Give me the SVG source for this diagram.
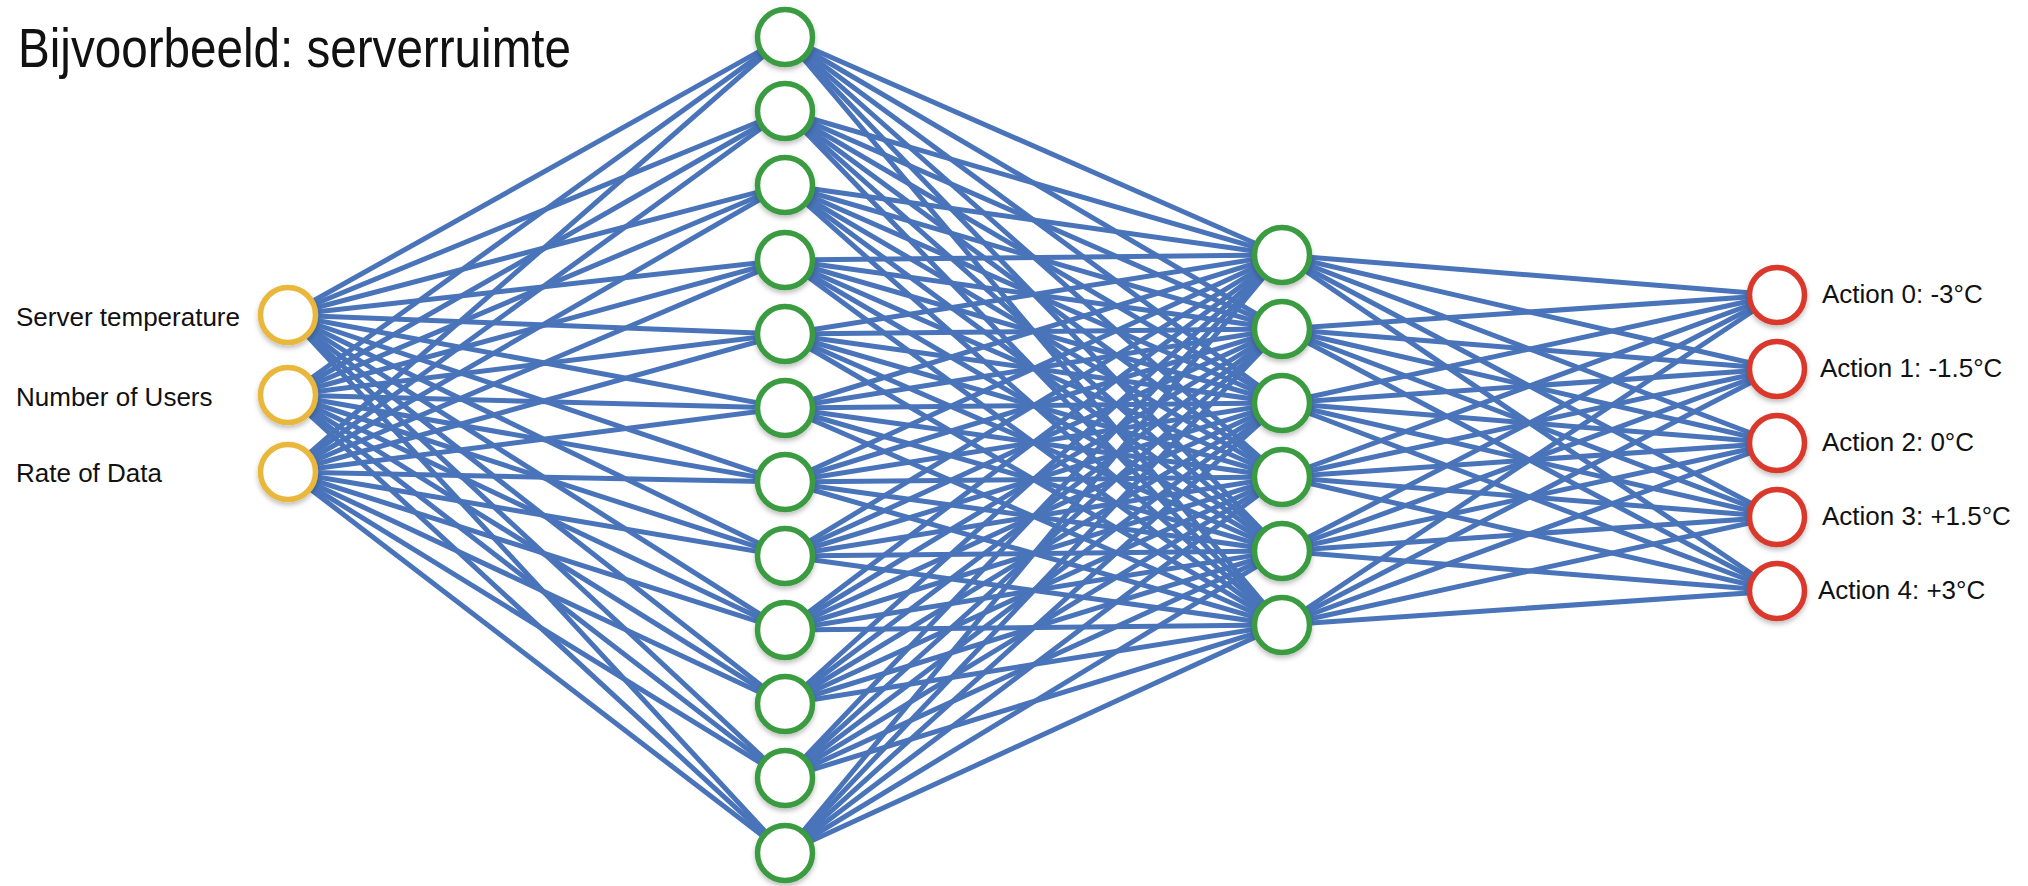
<svg xmlns="http://www.w3.org/2000/svg" width="2028" height="886" viewBox="0 0 2028 886">
<defs>
<style>
.e{stroke:#4a74ba;stroke-width:5;stroke-linecap:round}
.n{fill:#ffffff;stroke-width:5.5;filter:url(#sh)}
.in{stroke:#e9b73a}
.hd{stroke:#3b9b41}
.out{stroke:#d9382c}
.t{font-family:"Liberation Sans",Arial,sans-serif;fill:#111111}
.lbl{font-size:26px}
.title{font-size:56px}
</style>
<filter id="sh" x="-30%" y="-30%" width="160%" height="170%">
<feDropShadow dx="0" dy="3" stdDeviation="2.5" flood-color="#000000" flood-opacity="0.25"/>
</filter>
</defs>
<rect x="0" y="0" width="2028" height="886" fill="#ffffff"/>
<text class="t title" x="18" y="67" textLength="553" lengthAdjust="spacingAndGlyphs">Bijvoorbeeld: serverruimte</text>
<g id="connectors">
<line class="e" x1="288" y1="315" x2="785" y2="37"/>
<line class="e" x1="288" y1="315" x2="785" y2="111"/>
<line class="e" x1="288" y1="315" x2="785" y2="185"/>
<line class="e" x1="288" y1="315" x2="785" y2="260"/>
<line class="e" x1="288" y1="315" x2="785" y2="334"/>
<line class="e" x1="288" y1="315" x2="785" y2="408"/>
<line class="e" x1="288" y1="315" x2="785" y2="482"/>
<line class="e" x1="288" y1="315" x2="785" y2="556"/>
<line class="e" x1="288" y1="315" x2="785" y2="630"/>
<line class="e" x1="288" y1="315" x2="785" y2="704"/>
<line class="e" x1="288" y1="315" x2="785" y2="778"/>
<line class="e" x1="288" y1="315" x2="785" y2="853"/>
<line class="e" x1="288" y1="395" x2="785" y2="37"/>
<line class="e" x1="288" y1="395" x2="785" y2="111"/>
<line class="e" x1="288" y1="395" x2="785" y2="185"/>
<line class="e" x1="288" y1="395" x2="785" y2="260"/>
<line class="e" x1="288" y1="395" x2="785" y2="334"/>
<line class="e" x1="288" y1="395" x2="785" y2="408"/>
<line class="e" x1="288" y1="395" x2="785" y2="482"/>
<line class="e" x1="288" y1="395" x2="785" y2="556"/>
<line class="e" x1="288" y1="395" x2="785" y2="630"/>
<line class="e" x1="288" y1="395" x2="785" y2="704"/>
<line class="e" x1="288" y1="395" x2="785" y2="778"/>
<line class="e" x1="288" y1="395" x2="785" y2="853"/>
<line class="e" x1="288" y1="472" x2="785" y2="37"/>
<line class="e" x1="288" y1="472" x2="785" y2="111"/>
<line class="e" x1="288" y1="472" x2="785" y2="185"/>
<line class="e" x1="288" y1="472" x2="785" y2="260"/>
<line class="e" x1="288" y1="472" x2="785" y2="334"/>
<line class="e" x1="288" y1="472" x2="785" y2="408"/>
<line class="e" x1="288" y1="472" x2="785" y2="482"/>
<line class="e" x1="288" y1="472" x2="785" y2="556"/>
<line class="e" x1="288" y1="472" x2="785" y2="630"/>
<line class="e" x1="288" y1="472" x2="785" y2="704"/>
<line class="e" x1="288" y1="472" x2="785" y2="778"/>
<line class="e" x1="288" y1="472" x2="785" y2="853"/>
<line class="e" x1="785" y1="37" x2="1282" y2="255"/>
<line class="e" x1="785" y1="37" x2="1282" y2="329"/>
<line class="e" x1="785" y1="37" x2="1282" y2="403"/>
<line class="e" x1="785" y1="37" x2="1282" y2="477"/>
<line class="e" x1="785" y1="37" x2="1282" y2="551"/>
<line class="e" x1="785" y1="37" x2="1282" y2="625"/>
<line class="e" x1="785" y1="111" x2="1282" y2="255"/>
<line class="e" x1="785" y1="111" x2="1282" y2="329"/>
<line class="e" x1="785" y1="111" x2="1282" y2="403"/>
<line class="e" x1="785" y1="111" x2="1282" y2="477"/>
<line class="e" x1="785" y1="111" x2="1282" y2="551"/>
<line class="e" x1="785" y1="111" x2="1282" y2="625"/>
<line class="e" x1="785" y1="185" x2="1282" y2="255"/>
<line class="e" x1="785" y1="185" x2="1282" y2="329"/>
<line class="e" x1="785" y1="185" x2="1282" y2="403"/>
<line class="e" x1="785" y1="185" x2="1282" y2="477"/>
<line class="e" x1="785" y1="185" x2="1282" y2="551"/>
<line class="e" x1="785" y1="185" x2="1282" y2="625"/>
<line class="e" x1="785" y1="260" x2="1282" y2="255"/>
<line class="e" x1="785" y1="260" x2="1282" y2="329"/>
<line class="e" x1="785" y1="260" x2="1282" y2="403"/>
<line class="e" x1="785" y1="260" x2="1282" y2="477"/>
<line class="e" x1="785" y1="260" x2="1282" y2="551"/>
<line class="e" x1="785" y1="260" x2="1282" y2="625"/>
<line class="e" x1="785" y1="334" x2="1282" y2="255"/>
<line class="e" x1="785" y1="334" x2="1282" y2="329"/>
<line class="e" x1="785" y1="334" x2="1282" y2="403"/>
<line class="e" x1="785" y1="334" x2="1282" y2="477"/>
<line class="e" x1="785" y1="334" x2="1282" y2="551"/>
<line class="e" x1="785" y1="334" x2="1282" y2="625"/>
<line class="e" x1="785" y1="408" x2="1282" y2="255"/>
<line class="e" x1="785" y1="408" x2="1282" y2="329"/>
<line class="e" x1="785" y1="408" x2="1282" y2="403"/>
<line class="e" x1="785" y1="408" x2="1282" y2="477"/>
<line class="e" x1="785" y1="408" x2="1282" y2="551"/>
<line class="e" x1="785" y1="408" x2="1282" y2="625"/>
<line class="e" x1="785" y1="482" x2="1282" y2="255"/>
<line class="e" x1="785" y1="482" x2="1282" y2="329"/>
<line class="e" x1="785" y1="482" x2="1282" y2="403"/>
<line class="e" x1="785" y1="482" x2="1282" y2="477"/>
<line class="e" x1="785" y1="482" x2="1282" y2="551"/>
<line class="e" x1="785" y1="482" x2="1282" y2="625"/>
<line class="e" x1="785" y1="556" x2="1282" y2="255"/>
<line class="e" x1="785" y1="556" x2="1282" y2="329"/>
<line class="e" x1="785" y1="556" x2="1282" y2="403"/>
<line class="e" x1="785" y1="556" x2="1282" y2="477"/>
<line class="e" x1="785" y1="556" x2="1282" y2="551"/>
<line class="e" x1="785" y1="556" x2="1282" y2="625"/>
<line class="e" x1="785" y1="630" x2="1282" y2="255"/>
<line class="e" x1="785" y1="630" x2="1282" y2="329"/>
<line class="e" x1="785" y1="630" x2="1282" y2="403"/>
<line class="e" x1="785" y1="630" x2="1282" y2="477"/>
<line class="e" x1="785" y1="630" x2="1282" y2="551"/>
<line class="e" x1="785" y1="630" x2="1282" y2="625"/>
<line class="e" x1="785" y1="704" x2="1282" y2="255"/>
<line class="e" x1="785" y1="704" x2="1282" y2="329"/>
<line class="e" x1="785" y1="704" x2="1282" y2="403"/>
<line class="e" x1="785" y1="704" x2="1282" y2="477"/>
<line class="e" x1="785" y1="704" x2="1282" y2="551"/>
<line class="e" x1="785" y1="704" x2="1282" y2="625"/>
<line class="e" x1="785" y1="778" x2="1282" y2="255"/>
<line class="e" x1="785" y1="778" x2="1282" y2="329"/>
<line class="e" x1="785" y1="778" x2="1282" y2="403"/>
<line class="e" x1="785" y1="778" x2="1282" y2="477"/>
<line class="e" x1="785" y1="778" x2="1282" y2="551"/>
<line class="e" x1="785" y1="778" x2="1282" y2="625"/>
<line class="e" x1="785" y1="853" x2="1282" y2="255"/>
<line class="e" x1="785" y1="853" x2="1282" y2="329"/>
<line class="e" x1="785" y1="853" x2="1282" y2="403"/>
<line class="e" x1="785" y1="853" x2="1282" y2="477"/>
<line class="e" x1="785" y1="853" x2="1282" y2="551"/>
<line class="e" x1="785" y1="853" x2="1282" y2="625"/>
<line class="e" x1="1282" y1="255" x2="1777" y2="295"/>
<line class="e" x1="1282" y1="255" x2="1777" y2="369"/>
<line class="e" x1="1282" y1="255" x2="1777" y2="443"/>
<line class="e" x1="1282" y1="255" x2="1777" y2="517"/>
<line class="e" x1="1282" y1="255" x2="1777" y2="591"/>
<line class="e" x1="1282" y1="329" x2="1777" y2="295"/>
<line class="e" x1="1282" y1="329" x2="1777" y2="369"/>
<line class="e" x1="1282" y1="329" x2="1777" y2="443"/>
<line class="e" x1="1282" y1="329" x2="1777" y2="517"/>
<line class="e" x1="1282" y1="329" x2="1777" y2="591"/>
<line class="e" x1="1282" y1="403" x2="1777" y2="295"/>
<line class="e" x1="1282" y1="403" x2="1777" y2="369"/>
<line class="e" x1="1282" y1="403" x2="1777" y2="443"/>
<line class="e" x1="1282" y1="403" x2="1777" y2="517"/>
<line class="e" x1="1282" y1="403" x2="1777" y2="591"/>
<line class="e" x1="1282" y1="477" x2="1777" y2="295"/>
<line class="e" x1="1282" y1="477" x2="1777" y2="369"/>
<line class="e" x1="1282" y1="477" x2="1777" y2="443"/>
<line class="e" x1="1282" y1="477" x2="1777" y2="517"/>
<line class="e" x1="1282" y1="477" x2="1777" y2="591"/>
<line class="e" x1="1282" y1="551" x2="1777" y2="295"/>
<line class="e" x1="1282" y1="551" x2="1777" y2="369"/>
<line class="e" x1="1282" y1="551" x2="1777" y2="443"/>
<line class="e" x1="1282" y1="551" x2="1777" y2="517"/>
<line class="e" x1="1282" y1="551" x2="1777" y2="591"/>
<line class="e" x1="1282" y1="625" x2="1777" y2="295"/>
<line class="e" x1="1282" y1="625" x2="1777" y2="369"/>
<line class="e" x1="1282" y1="625" x2="1777" y2="443"/>
<line class="e" x1="1282" y1="625" x2="1777" y2="517"/>
<line class="e" x1="1282" y1="625" x2="1777" y2="591"/>
</g>
<g id="in0"><circle class="n in" cx="288" cy="315" r="27.5"/><text class="t lbl" x="16" y="326">Server temperature</text></g>
<g id="in1"><circle class="n in" cx="288" cy="395" r="27.5"/><text class="t lbl" x="16" y="406">Number of Users</text></g>
<g id="in2"><circle class="n in" cx="288" cy="472" r="27.5"/><text class="t lbl" x="16" y="482">Rate of Data</text></g>
<g id="h1_0"><circle class="n hd" cx="785" cy="37" r="27.5"/></g>
<g id="h1_1"><circle class="n hd" cx="785" cy="111" r="27.5"/></g>
<g id="h1_2"><circle class="n hd" cx="785" cy="185" r="27.5"/></g>
<g id="h1_3"><circle class="n hd" cx="785" cy="260" r="27.5"/></g>
<g id="h1_4"><circle class="n hd" cx="785" cy="334" r="27.5"/></g>
<g id="h1_5"><circle class="n hd" cx="785" cy="408" r="27.5"/></g>
<g id="h1_6"><circle class="n hd" cx="785" cy="482" r="27.5"/></g>
<g id="h1_7"><circle class="n hd" cx="785" cy="556" r="27.5"/></g>
<g id="h1_8"><circle class="n hd" cx="785" cy="630" r="27.5"/></g>
<g id="h1_9"><circle class="n hd" cx="785" cy="704" r="27.5"/></g>
<g id="h1_10"><circle class="n hd" cx="785" cy="778" r="27.5"/></g>
<g id="h1_11"><circle class="n hd" cx="785" cy="853" r="27.5"/></g>
<g id="h2_0"><circle class="n hd" cx="1282" cy="255" r="27.5"/></g>
<g id="h2_1"><circle class="n hd" cx="1282" cy="329" r="27.5"/></g>
<g id="h2_2"><circle class="n hd" cx="1282" cy="403" r="27.5"/></g>
<g id="h2_3"><circle class="n hd" cx="1282" cy="477" r="27.5"/></g>
<g id="h2_4"><circle class="n hd" cx="1282" cy="551" r="27.5"/></g>
<g id="h2_5"><circle class="n hd" cx="1282" cy="625" r="27.5"/></g>
<g id="out0"><circle class="n out" cx="1777" cy="295" r="27.5"/><text class="t lbl" x="1822" y="303">Action 0: -3°C</text></g>
<g id="out1"><circle class="n out" cx="1777" cy="369" r="27.5"/><text class="t lbl" x="1820" y="377">Action 1: -1.5°C</text></g>
<g id="out2"><circle class="n out" cx="1777" cy="443" r="27.5"/><text class="t lbl" x="1822" y="451">Action 2: 0°C</text></g>
<g id="out3"><circle class="n out" cx="1777" cy="517" r="27.5"/><text class="t lbl" x="1822" y="525">Action 3: +1.5°C</text></g>
<g id="out4"><circle class="n out" cx="1777" cy="591" r="27.5"/><text class="t lbl" x="1818" y="599">Action 4: +3°C</text></g>
</svg>
